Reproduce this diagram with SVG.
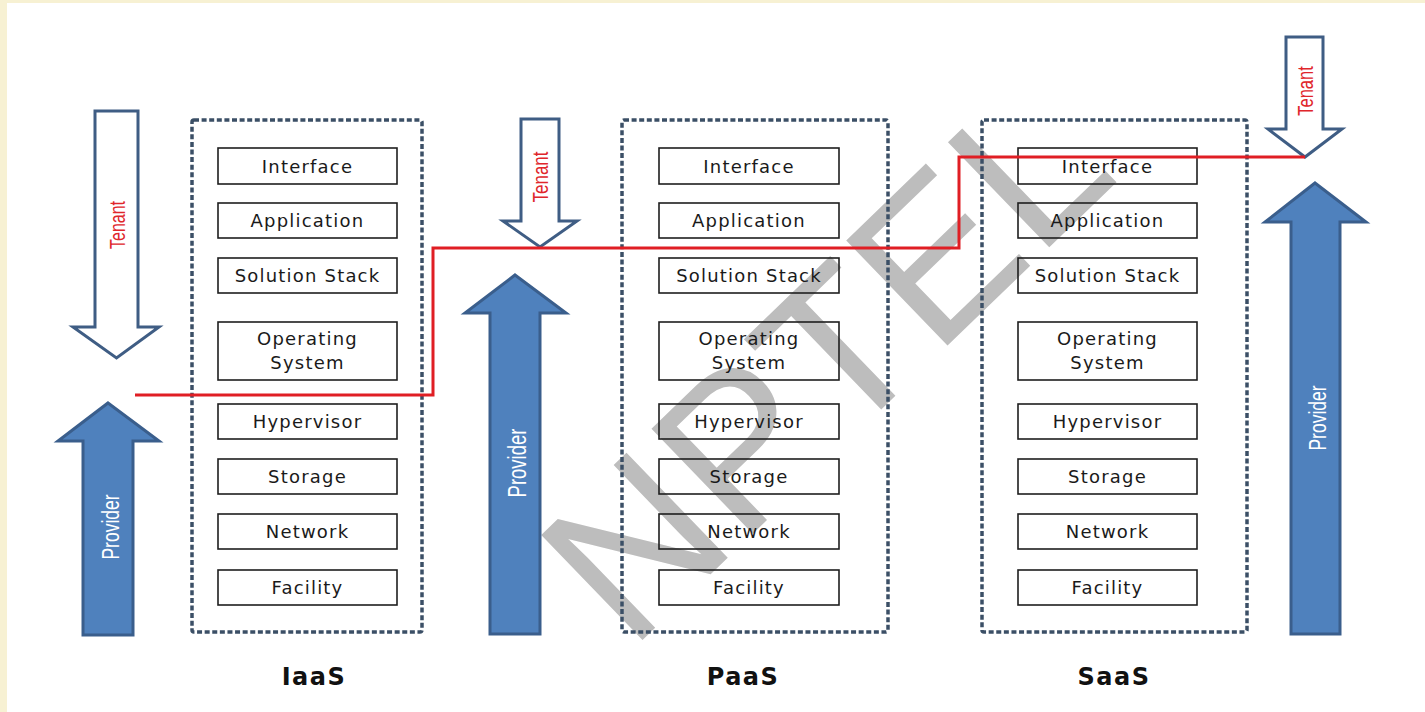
<svg xmlns="http://www.w3.org/2000/svg" width="1425" height="712" viewBox="0 0 1425 712">
<style>
.layer{fill:none;stroke:#1e1e1e;stroke-width:1.6}
.lbl{font-family:"DejaVu Sans","Open Sans",sans-serif;font-size:18px;letter-spacing:1.2px;fill:#1a1a1a;text-anchor:middle}
.frame{fill:none;stroke:#3b4f66;stroke-width:3.5;stroke-dasharray:5 2.6}
.title{font-family:"DejaVu Sans","Liberation Sans",sans-serif;font-weight:bold;font-size:24px;letter-spacing:1.5px;fill:#111;text-anchor:middle}
.tenant{fill:#fff;stroke:#3f5d84;stroke-width:3;stroke-linejoin:miter}
.provider{fill:#4f81bd;stroke:#3a5e8c;stroke-width:3}
.tt{font-family:"Liberation Sans",Arial,sans-serif;fill:#e0262b;text-anchor:middle}
.pt{font-family:"Liberation Sans",Arial,sans-serif;fill:#fff;text-anchor:middle}
.wm{font-family:"Liberation Sans",Arial,sans-serif;font-size:212px;fill:#bdbdbd}
</style>
<rect x="0" y="0" width="1425" height="712" fill="#f7f1d3"/>
<rect x="7" y="3" width="1418" height="709" fill="#ffffff"/>

<text class="wm" transform="translate(630,652) rotate(-44)">NPTEL</text>

<g id="iaas">
<rect class="frame" x="192" y="120" width="230" height="512" rx="2"/>
<rect class="layer" x="218" y="148" width="179" height="36"/>
<text class="lbl" x="307.5" y="172.5">Interface</text>
<rect class="layer" x="218" y="203" width="179" height="35"/>
<text class="lbl" x="307.5" y="227">Application</text>
<rect class="layer" x="218" y="258" width="179" height="35"/>
<text class="lbl" x="307.5" y="282">Solution Stack</text>
<rect class="layer" x="218" y="322" width="179" height="58"/>
<text class="lbl" x="307.5" y="345">Operating</text>
<text class="lbl" x="307.5" y="369">System</text>
<rect class="layer" x="218" y="404" width="179" height="35"/>
<text class="lbl" x="307.5" y="428">Hypervisor</text>
<rect class="layer" x="218" y="459" width="179" height="35"/>
<text class="lbl" x="307.5" y="483">Storage</text>
<rect class="layer" x="218" y="514" width="179" height="35"/>
<text class="lbl" x="307.5" y="538">Network</text>
<rect class="layer" x="218" y="570" width="179" height="35"/>
<text class="lbl" x="307.5" y="594">Facility</text>
<text class="title" x="314" y="685">IaaS</text>
</g>

<g id="paas">
<rect class="frame" x="622" y="120" width="266" height="512" rx="2"/>
<rect class="layer" x="659" y="148" width="180" height="36"/>
<text class="lbl" x="749" y="172.5">Interface</text>
<rect class="layer" x="659" y="203" width="180" height="35"/>
<text class="lbl" x="749" y="227">Application</text>
<rect class="layer" x="659" y="258" width="180" height="35"/>
<text class="lbl" x="749" y="282">Solution Stack</text>
<rect class="layer" x="659" y="322" width="180" height="58"/>
<text class="lbl" x="749" y="345">Operating</text>
<text class="lbl" x="749" y="369">System</text>
<rect class="layer" x="659" y="404" width="180" height="35"/>
<text class="lbl" x="749" y="428">Hypervisor</text>
<rect class="layer" x="659" y="459" width="180" height="35"/>
<text class="lbl" x="749" y="483">Storage</text>
<rect class="layer" x="659" y="514" width="180" height="35"/>
<text class="lbl" x="749" y="538">Network</text>
<rect class="layer" x="659" y="570" width="180" height="35"/>
<text class="lbl" x="749" y="594">Facility</text>
<text class="title" x="743" y="685">PaaS</text>
</g>

<g id="saas">
<rect class="frame" x="982" y="120" width="265" height="512" rx="2"/>
<rect class="layer" x="1018" y="148" width="179" height="36"/>
<text class="lbl" x="1107.5" y="172.5">Interface</text>
<rect class="layer" x="1018" y="203" width="179" height="35"/>
<text class="lbl" x="1107.5" y="227">Application</text>
<rect class="layer" x="1018" y="258" width="179" height="35"/>
<text class="lbl" x="1107.5" y="282">Solution Stack</text>
<rect class="layer" x="1018" y="322" width="179" height="58"/>
<text class="lbl" x="1107.5" y="345">Operating</text>
<text class="lbl" x="1107.5" y="369">System</text>
<rect class="layer" x="1018" y="404" width="179" height="35"/>
<text class="lbl" x="1107.5" y="428">Hypervisor</text>
<rect class="layer" x="1018" y="459" width="179" height="35"/>
<text class="lbl" x="1107.5" y="483">Storage</text>
<rect class="layer" x="1018" y="514" width="179" height="35"/>
<text class="lbl" x="1107.5" y="538">Network</text>
<rect class="layer" x="1018" y="570" width="179" height="35"/>
<text class="lbl" x="1107.5" y="594">Facility</text>
<text class="title" x="1114" y="685">SaaS</text>
</g>

<g id="iaas-tenant">
<polygon class="tenant" points="95,111 138,111 138,327 159,327 116.5,358 73,327 95,327"/>
<text class="tt" font-size="16" transform="translate(117,225) rotate(-90) scale(1,1.35)" x="0" y="5.7">Tenant</text>
</g>
<g id="iaas-provider">
<polygon class="provider" points="108,403 159,441 133,441 133,635 83,635 83,441 58,441"/>
<text class="pt" font-size="17.5" transform="translate(111,527) rotate(-90) scale(1,1.35)" x="0" y="6.2">Provider</text>
</g>
<g id="paas-tenant">
<polygon class="tenant" points="521,119 559,119 559,221 577,221 540,247 503,221 521,221"/>
<text class="tt" font-size="17" transform="translate(540,177) rotate(-90) scale(1,1.35)" x="0" y="6">Tenant</text>
</g>
<g id="paas-provider">
<polygon class="provider" points="515,275 566,313 540,313 540,634 490,634 490,313 465,313"/>
<text class="pt" font-size="18.5" transform="translate(517,463) rotate(-90) scale(1,1.35)" x="0" y="6.5">Provider</text>
</g>
<g id="saas-tenant">
<polygon class="tenant" points="1286,37 1323,37 1323,129 1342,129 1305,157 1268,129 1286,129"/>
<text class="tt" font-size="16.5" transform="translate(1305,91) rotate(-90) scale(1,1.35)" x="0" y="5.9">Tenant</text>
</g>
<g id="saas-provider">
<polygon class="provider" points="1315,183 1366,222 1340,222 1340,634 1291,634 1291,222 1265,222"/>
<text class="pt" font-size="17.5" transform="translate(1318,418) rotate(-90) scale(1,1.35)" x="0" y="6.2">Provider</text>
</g>

<g id="connectors">
<polyline points="135,395 433,395 433,248 959,248 959,157 1305,157" fill="none" stroke="#e01e24" stroke-width="3"/>
</g>
</svg>
